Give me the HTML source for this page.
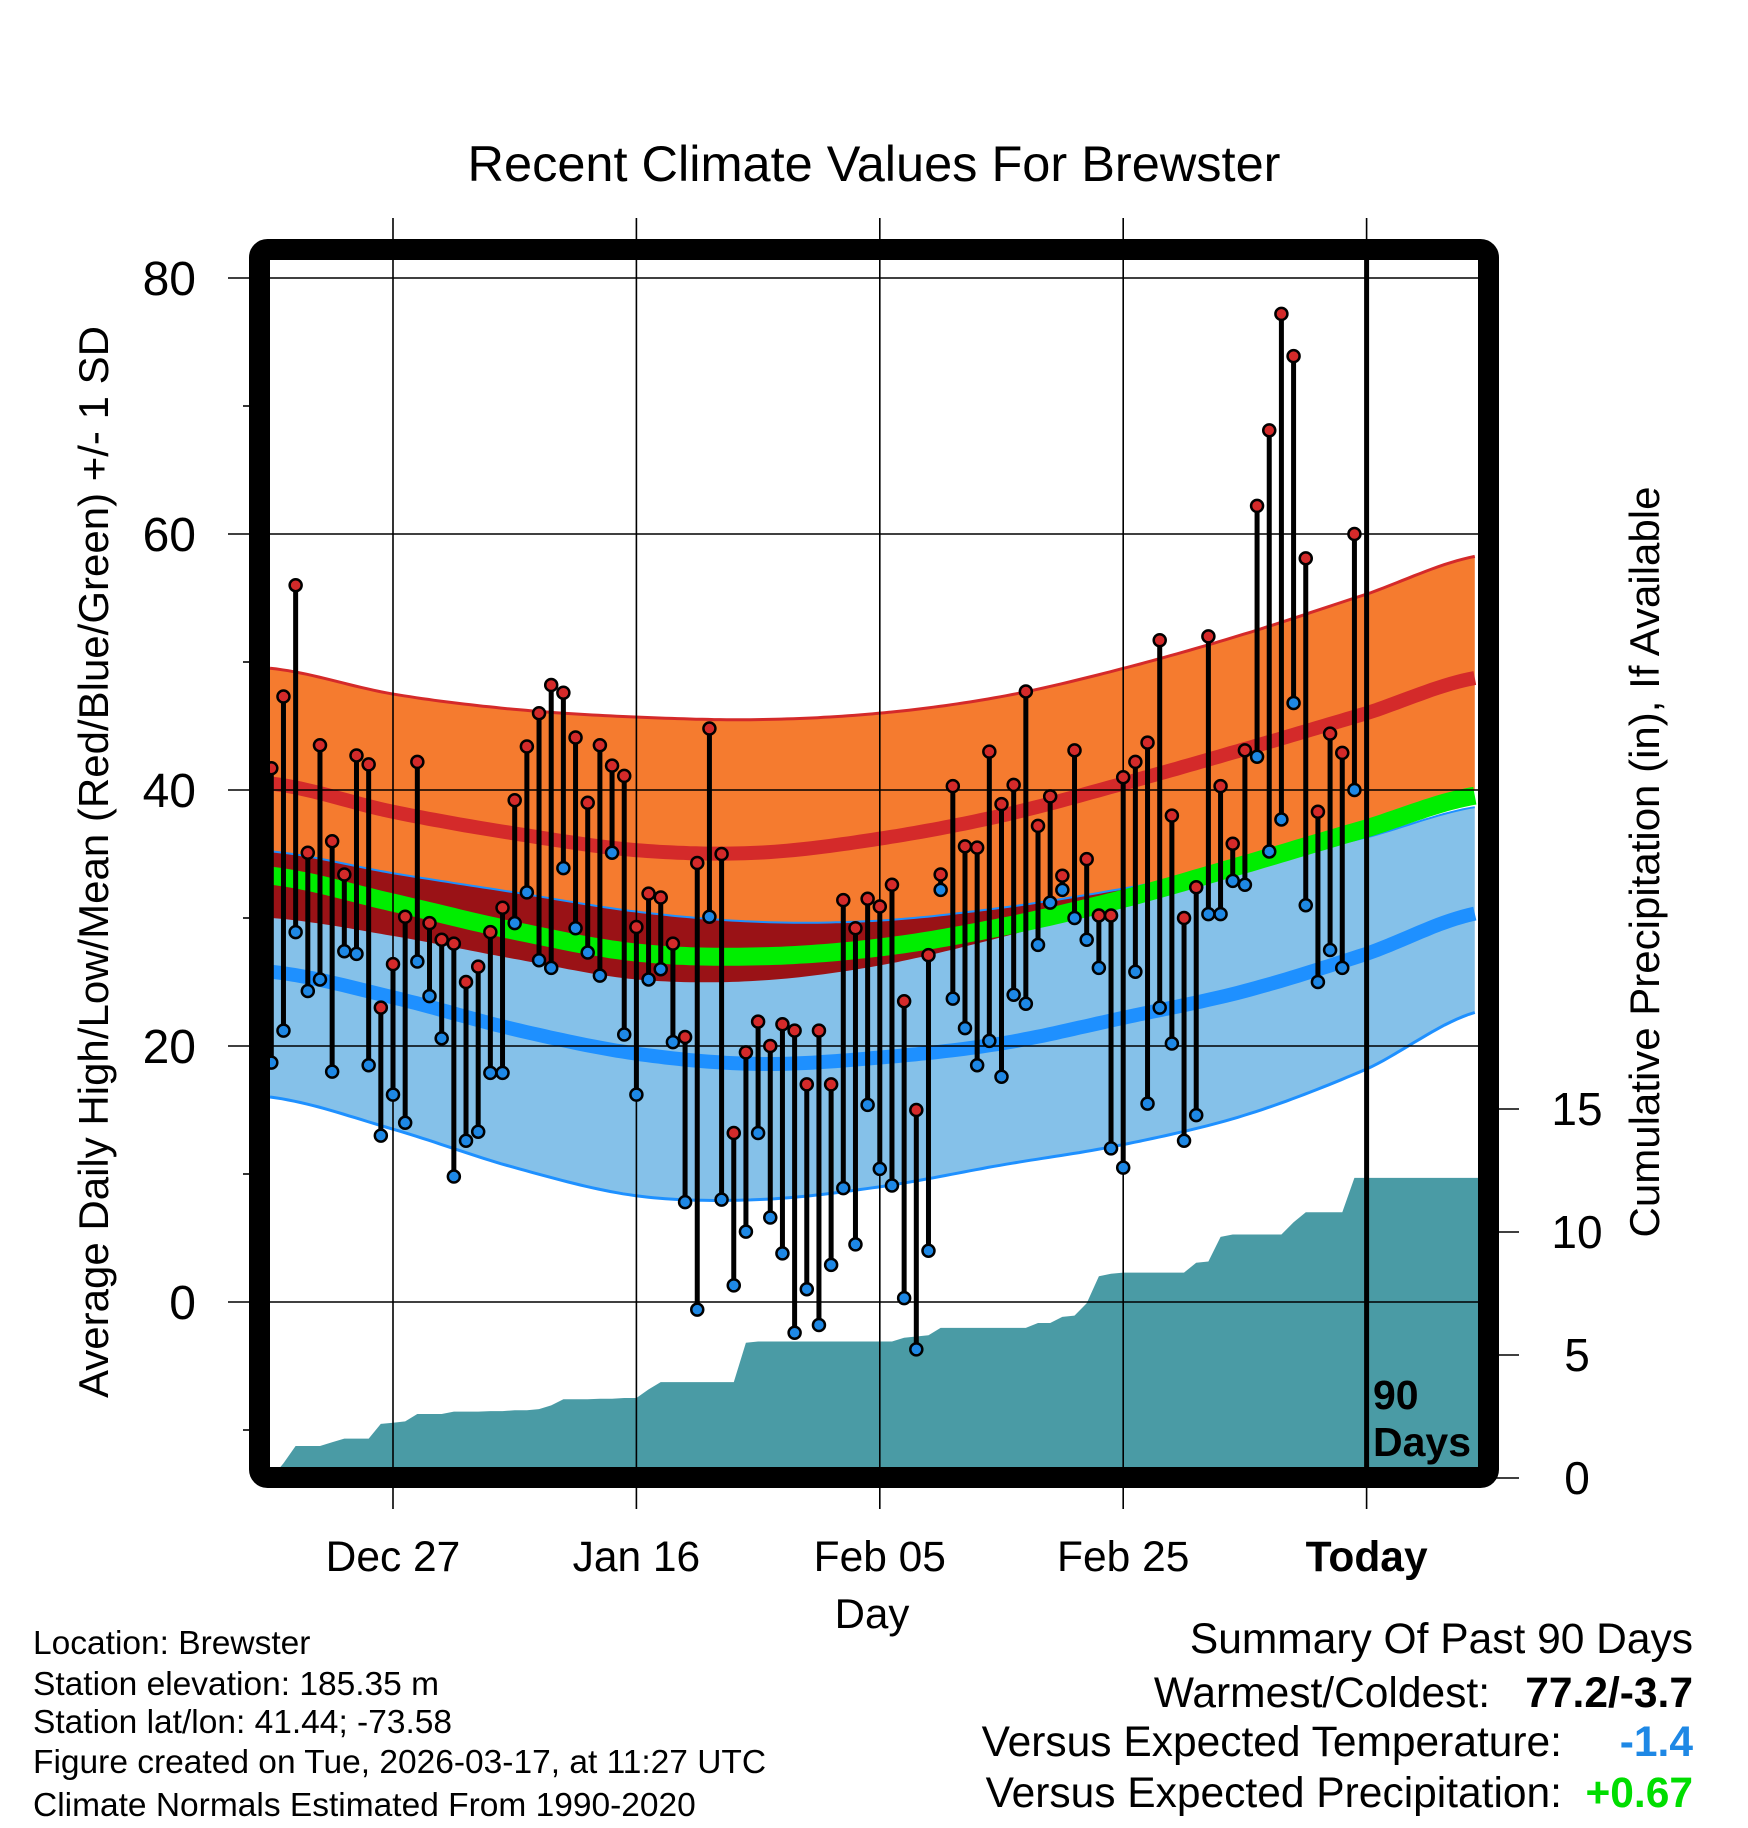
<!DOCTYPE html>
<html><head><meta charset="utf-8"><style>
html,body{margin:0;padding:0;background:#fff;}
svg{display:block;font-family:"Liberation Sans",sans-serif;}
</style></head><body>
<svg id="chart" width="1748" height="1828" viewBox="0 0 1748 1828" xmlns="http://www.w3.org/2000/svg">
<text x="874" y="181" font-size="50.5" text-anchor="middle">Recent Climate Values For Brewster</text>
<g id="bands"></g>
<g id="precip"></g>
<g id="grid"></g>
<g id="sticks"></g>
<g id="axes"></g>
<text transform="translate(108,862) rotate(-90)" font-size="42" text-anchor="middle">Average Daily High/Low/Mean (Red/Blue/Green) +/- 1 SD</text>
<text transform="translate(1659,862) rotate(-90)" font-size="42" text-anchor="middle">Cumulative Precipitation (in), If Available</text>
<text x="872" y="1628" font-size="42" text-anchor="middle">Day</text>
<g font-size="33.5">
<text x="33" y="1654">Location: Brewster</text>
<text x="33" y="1695">Station elevation: 185.35 m</text>
<text x="33" y="1733">Station lat/lon: 41.44; -73.58</text>
<text x="33" y="1773">Figure created on Tue, 2026-03-17, at 11:27 UTC</text>
<text x="33" y="1816">Climate Normals Estimated From 1990-2020</text>
</g>
<g font-size="42.5">
<text x="1693" y="1653" text-anchor="end">Summary Of Past 90 Days</text>
<text x="1490" y="1707" text-anchor="end">Warmest/Coldest:</text>
<text x="1693" y="1707" text-anchor="end" font-weight="bold">77.2/-3.7</text>
<text x="1562" y="1756" text-anchor="end">Versus Expected Temperature:</text>
<text x="1693" y="1756" text-anchor="end" font-weight="bold" fill="#1e88e5">-1.4</text>
<text x="1562" y="1807" text-anchor="end">Versus Expected Precipitation:</text>
<text x="1693" y="1807" text-anchor="end" font-weight="bold" fill="#00dd00">+0.67</text>
</g>
</svg>
<script>
// Daily data (days relative to Dec 27; first = Dec 17, index 0 => day -10)
const highs = [41.7,47.3,56,35.1,43.5,36,33.4,42.7,42,23,26.4,30.1,42.2,29.6,28.3,28,25,26.2,28.9,30.8,39.2,43.4,46,48.2,47.6,44.1,39,43.5,41.9,41.1,29.3,31.9,31.6,28,20.7,34.3,44.8,35,13.2,19.5,21.9,20,21.7,21.2,17,21.2,17,31.4,29.2,31.5,30.9,32.6,23.5,15,27.1,33.4,40.3,35.6,35.5,43,38.9,40.4,47.7,37.2,39.5,33.3,43.1,34.6,30.2,30.2,41,42.2,43.7,51.7,38,30,32.4,52,40.3,35.8,43.1,62.2,68.1,77.2,73.9,58.1,38.3,44.4,42.9,60];
const lows = [18.7,21.2,28.9,24.3,25.2,18,27.4,27.2,18.5,13,16.2,14,26.6,23.9,20.6,9.8,12.6,13.3,17.9,17.9,29.6,32,26.7,26.1,33.9,29.2,27.3,25.5,35.1,20.9,16.2,25.2,26,20.3,7.8,-0.6,30.1,8,1.3,5.5,13.2,6.6,3.8,-2.4,1,-1.8,2.9,8.9,4.5,15.4,10.4,9.1,0.3,-3.7,4,32.2,23.7,21.4,18.5,20.4,17.6,24,23.3,27.9,31.2,32.2,30,28.3,26.1,12,10.5,25.8,15.5,23,20.2,12.6,14.6,30.3,30.3,32.9,32.6,42.6,35.2,37.7,46.8,31,25,27.5,26.1,40];
const precip = [0,0.6,1.3,1.3,1.3,1.45,1.6,1.6,1.6,2.2,2.25,2.3,2.6,2.6,2.6,2.7,2.7,2.7,2.72,2.72,2.75,2.75,2.8,2.95,3.2,3.2,3.2,3.22,3.22,3.25,3.25,3.6,3.9,3.9,3.9,3.9,3.9,3.9,3.9,5.5,5.55,5.55,5.55,5.55,5.55,5.55,5.55,5.55,5.55,5.55,5.55,5.55,5.7,5.75,5.8,6.1,6.1,6.1,6.1,6.1,6.1,6.1,6.1,6.3,6.3,6.55,6.6,7.1,8.2,8.3,8.35,8.35,8.35,8.35,8.35,8.35,8.75,8.8,9.8,9.9,9.9,9.9,9.9,9.9,10.4,10.8,10.8,10.8,10.8,12.2];
const firstDay = -10;
// Normals sampled at these days
const normDays = [-10,0,10,20,30,40,50,60,70,80,89.2];
const highPlus = [49.5,47.5,46.3,45.7,45.5,46,47.3,49.5,52.2,55.3,58.3];
const highMean = [40.5,38.3,36.6,35.3,35.1,36.2,38,40.5,43.2,46,48.8];
const highMinus = [30,28.6,26.8,25.2,25.1,26.3,28.5,31.2,34.4,37.2,40];
const meanNorm = [33.3,31.2,29,27.3,27,27.7,29.3,31.5,34.2,37,39.6];
const lowPlus = [35.2,33.5,32,30.5,29.7,29.8,30.8,32.3,34.2,36.3,38.7];
const lowMean = [25.8,23.8,21.3,19.4,18.6,19.1,20.2,22.2,24.3,27.2,30.4];
const lowMinus = [16,13.5,10.5,8.3,8,9,10.7,12.3,14.6,18.2,22.7];
const xTickDays = [0,20,40,60,80];
const xTickLabels = ["Dec 27","Jan 16","Feb 05","Feb 25","Today"];
const yTicks = [0,20,40,60,80];
const yMinor = [-10,10,30,50,70];
const pTicks = [0,5,10,15];

const NS="http://www.w3.org/2000/svg";
const X0=393, DX=12.17, Y0=1302, DY=12.8, P0=1478, DP=24.6;
const L=270, R=1478, T=260, B=1467;
function xs(d){return X0+d*DX;}
function ys(t){return Y0-t*DY;}
function yp(p){return P0-p*DP;}
function mk(tag,attrs,parent){const e=document.createElementNS(NS,tag);for(const k in attrs)e.setAttribute(k,attrs[k]);parent.appendChild(e);return e;}
function interp(arr,d){
  let i=0;while(i<normDays.length-2&&d>normDays[i+1])i++;
  const t=(d-normDays[i])/(normDays[i+1]-normDays[i]);
  const p0=arr[Math.max(i-1,0)],p1=arr[i],p2=arr[i+1],p3=arr[Math.min(i+2,arr.length-1)];
  const t2=t*t,t3=t2*t;
  return 0.5*((2*p1)+(-p0+p2)*t+(2*p0-5*p1+4*p2-p3)*t2+(-p0+3*p1-3*p2+p3)*t3);
}
const dStart=(L-X0)/DX, dEnd=(R-X0)/DX;
const samp=[];for(let d=dStart;d<=dEnd+0.001;d+=0.5)samp.push(d);
function linePts(arr){return samp.map(d=>xs(d).toFixed(1)+","+ys(interp(arr,d)).toFixed(1));}
function bandPath(upFn,loFn){
  const up=samp.map(d=>xs(d).toFixed(1)+","+ys(upFn(d)).toFixed(1));
  const lo=samp.slice().reverse().map(d=>xs(d).toFixed(1)+","+ys(loFn(d)).toFixed(1));
  return "M"+up.join("L")+"L"+lo.join("L")+"Z";
}
const bands=document.getElementById('bands');
let e;
e=mk('path',{d:bandPath(d=>interp(highPlus,d),d=>interp(highMinus,d)),fill:'#f57b2f'},bands);


e=mk('path',{d:bandPath(d=>interp(lowPlus,d),d=>interp(lowMinus,d)),fill:'#85c1e9'},bands);


e=mk('path',{d:bandPath(d=>interp(lowPlus,d),d=>Math.min(interp(highMinus,d),interp(lowPlus,d))),fill:'#9a1216'},bands);


e=mk('polyline',{points:linePts(highPlus).join(' '),fill:'none',stroke:'#d42a2a','stroke-width':3},bands);


e=mk('polyline',{points:linePts(lowMinus).join(' '),fill:'none',stroke:'#1e90ff','stroke-width':3},bands);


e=mk('polyline',{points:linePts(lowPlus).join(' '),fill:'none',stroke:'#1e90ff','stroke-width':2},bands);


e=mk('polyline',{points:linePts(highMean).join(' '),fill:'none',stroke:'#d42a2a','stroke-width':14},bands);


e=mk('polyline',{points:linePts(lowMean).join(' '),fill:'none',stroke:'#1e90ff','stroke-width':14},bands);


e=mk('polyline',{points:linePts(meanNorm).join(' '),fill:'none',stroke:'#00ee00','stroke-width':18},bands);



// precipitation step area
const pg=document.getElementById('precip');
let pd="M"+xs(firstDay)+","+yp(0);
precip.forEach((v,i)=>{const x=xs(firstDay+i);pd+="L"+x.toFixed(1)+","+yp(v).toFixed(1);});
pd+="L"+R+","+yp(precip[precip.length-1]).toFixed(1)+"L"+R+","+B+"L"+xs(firstDay)+","+B+"Z";
e=mk('path',{d:pd,fill:'#4a9ba5'},pg);



// grid
const grid=document.getElementById('grid');
yTicks.forEach(t=>{
  const l=mk('line',{x1:228,x2:R,y1:ys(t),y2:ys(t),stroke:'#000','stroke-width':1.6},grid);
  
  
});
xTickDays.forEach((d,i)=>{
  const l=mk('line',{x1:xs(d),x2:xs(d),y1:218,y2:1509,stroke:'#000','stroke-width':1.6},grid);
  
  
});
const tl=mk('line',{x1:xs(80),x2:xs(80),y1:T,y2:B,stroke:'#000','stroke-width':5},grid);



// sticks
const sg=document.getElementById('sticks');
highs.forEach((h,i)=>{
  const x=xs(firstDay+i);
  const l=mk('line',{x1:x,x2:x,y1:ys(h),y2:ys(lows[i]),stroke:'#000','stroke-width':5},sg);
  
  
});
highs.forEach((h,i)=>{
  const x=xs(firstDay+i);
  const c1=mk('circle',{cx:x,cy:ys(h),r:6,fill:'#d42a2a',stroke:'#000','stroke-width':2.5},sg);
  
  
  const c2=mk('circle',{cx:x,cy:ys(lows[i]),r:6,fill:'#1e88e5',stroke:'#000','stroke-width':2.5},sg);
  
  
});

// axes
const ax=document.getElementById('axes');
e=mk('rect',{x:259.5,y:249.5,width:1229,height:1228,rx:8,fill:'none',stroke:'#000','stroke-width':21},ax);


yTicks.forEach(t=>{
  const tx=mk('text',{x:196,y:ys(t)+17,'font-size':48,'text-anchor':'end'},ax);
  tx.textContent=t;
  
  
});
yMinor.forEach(t=>{
  const l=mk('line',{x1:243,x2:252,y1:ys(t),y2:ys(t),stroke:'#000','stroke-width':1.6},ax);
  
  
});
xTickDays.forEach((d,i)=>{
  const tx=mk('text',{x:xs(d),y:1571,'font-size':42.5,'text-anchor':'middle','font-weight':i===4?'bold':'normal'},ax);
  tx.textContent=xTickLabels[i];
  
  
});
pTicks.forEach(p=>{
  const l=mk('line',{x1:1495,x2:1519,y1:yp(p),y2:yp(p),stroke:'#000','stroke-width':1.6},ax);
  
  
  const tx=mk('text',{x:1577,y:yp(p)+16,'font-size':46,'text-anchor':'middle'},ax);
  tx.textContent=p;
  
  
});
const t1=mk('text',{x:1373,y:1409,'font-size':41,'font-weight':'bold'},ax);
t1.textContent="90";


const t2=mk('text',{x:1373,y:1456,'font-size':41,'font-weight':'bold'},ax);
t2.textContent="Days";


</script>
</body></html>
